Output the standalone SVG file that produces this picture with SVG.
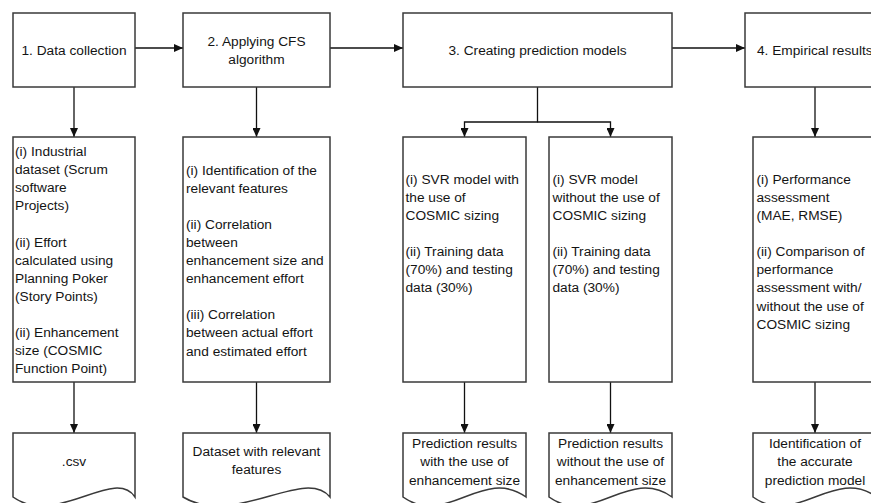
<svg xmlns="http://www.w3.org/2000/svg" width="871" height="503" viewBox="0 0 871 503">
<style>
.box{fill:#fff;stroke:#3a3a3a;stroke-width:1.5}
.conn{fill:none;stroke:#111;stroke-width:1.3}
text{font-family:"Liberation Sans",Arial,sans-serif;font-size:13.7px;fill:#141414}
.c{text-anchor:middle}
</style>
<defs>
<marker id="ah" markerWidth="9" markerHeight="8" refX="9" refY="4" orient="auto" markerUnits="userSpaceOnUse"><path d="M0,0 L9,4 L0,8 z" fill="#111"/></marker>
</defs>
<rect width="871" height="503" fill="#fff"/>

<g id="connectors">
<line class="conn" x1="135" y1="48" x2="183" y2="48" marker-end="url(#ah)"/>
<line class="conn" x1="330" y1="48" x2="403" y2="48" marker-end="url(#ah)"/>
<line class="conn" x1="672" y1="48" x2="745" y2="48" marker-end="url(#ah)"/>
<line class="conn" x1="74" y1="87" x2="74" y2="137" marker-end="url(#ah)"/>
<line class="conn" x1="256.5" y1="87" x2="256.5" y2="137" marker-end="url(#ah)"/>
<path class="conn" d="M537.5,87 V122 H464.5 V137" marker-end="url(#ah)"/>
<path class="conn" d="M537.5,122 H610.5 V137" marker-end="url(#ah)"/>
<line class="conn" x1="815" y1="87" x2="815" y2="137" marker-end="url(#ah)"/>
<line class="conn" x1="74" y1="382" x2="74" y2="433" marker-end="url(#ah)"/>
<line class="conn" x1="256.5" y1="382" x2="256.5" y2="433" marker-end="url(#ah)"/>
<line class="conn" x1="464.5" y1="382" x2="464.5" y2="433" marker-end="url(#ah)"/>
<line class="conn" x1="610.5" y1="382" x2="610.5" y2="433" marker-end="url(#ah)"/>
<line class="conn" x1="815" y1="382" x2="815" y2="433" marker-end="url(#ah)"/>
</g>

<g id="step1">
<rect class="box" x="13" y="13" width="122" height="74"/>
<text class="c" x="74" y="54.5">1. Data collection</text>
</g>
<g id="step2">
<rect class="box" x="183" y="13" width="147" height="74"/>
<text class="c" x="256.5" y="46">2. Applying CFS</text>
<text class="c" x="256.5" y="64">algorithm</text>
</g>
<g id="step3">
<rect class="box" x="403" y="13" width="269" height="74"/>
<text class="c" x="537.5" y="54.5">3. Creating prediction models</text>
</g>
<g id="step4">
<rect class="box" x="745" y="13" width="140" height="74"/>
<text x="757" y="54.5">4. Empirical results</text>
</g>

<g id="detail1">
<rect class="box" x="13" y="137" width="122" height="245"/>
<text>
<tspan x="15" y="156">(i) Industrial</tspan>
<tspan x="15" y="174.1">dataset (Scrum</tspan>
<tspan x="15" y="192.2">software</tspan>
<tspan x="15" y="210.3">Projects)</tspan>
<tspan x="15" y="246.5">(ii) Effort</tspan>
<tspan x="15" y="264.6">calculated using</tspan>
<tspan x="15" y="282.7">Planning Poker</tspan>
<tspan x="15" y="300.8">(Story Points)</tspan>
<tspan x="15" y="337">(ii) Enhancement</tspan>
<tspan x="15" y="355.1">size (COSMIC</tspan>
<tspan x="15" y="373.2">Function Point)</tspan>
</text>
</g>
<g id="detail2">
<rect class="box" x="183" y="137" width="147" height="245"/>
<text>
<tspan x="186" y="174.5">(i) Identification of the</tspan>
<tspan x="186" y="192.6">relevant features</tspan>
<tspan x="186" y="228.8">(ii) Correlation</tspan>
<tspan x="186" y="246.9">between</tspan>
<tspan x="186" y="265">enhancement size and</tspan>
<tspan x="186" y="283.1">enhancement effort</tspan>
<tspan x="186" y="319.3">(iii) Correlation</tspan>
<tspan x="186" y="337.4">between actual effort</tspan>
<tspan x="186" y="355.5">and estimated effort</tspan>
</text>
</g>
<g id="detail3a">
<rect class="box" x="403" y="137" width="123" height="245"/>
<text>
<tspan x="405.5" y="183.8">(i) SVR model with</tspan>
<tspan x="405.5" y="201.9">the use of</tspan>
<tspan x="405.5" y="220">COSMIC sizing</tspan>
<tspan x="405.5" y="256.2">(ii) Training data</tspan>
<tspan x="405.5" y="274.3">(70%) and testing</tspan>
<tspan x="405.5" y="292.4">data (30%)</tspan>
</text>
</g>
<g id="detail3b">
<rect class="box" x="549" y="137" width="123" height="245"/>
<text>
<tspan x="552.5" y="183.8">(i) SVR model</tspan>
<tspan x="552.5" y="201.9">without the use of</tspan>
<tspan x="552.5" y="220">COSMIC sizing</tspan>
<tspan x="552.5" y="256.2">(ii) Training data</tspan>
<tspan x="552.5" y="274.3">(70%) and testing</tspan>
<tspan x="552.5" y="292.4">data (30%)</tspan>
</text>
</g>
<g id="detail4">
<rect class="box" x="753" y="137" width="124" height="245"/>
<text>
<tspan x="756.5" y="183.8">(i) Performance</tspan>
<tspan x="756.5" y="201.9">assessment</tspan>
<tspan x="756.5" y="220">(MAE, RMSE)</tspan>
<tspan x="756.5" y="256.2">(ii) Comparison of</tspan>
<tspan x="756.5" y="274.3">performance</tspan>
<tspan x="756.5" y="292.4">assessment with/</tspan>
<tspan x="756.5" y="310.5">without the use of</tspan>
<tspan x="756.5" y="328.6">COSMIC sizing</tspan>
</text>
</g>

<g id="output1">
<path class="box" d="M13,433 H135 V497 C114.3,466 55.7,528 13,497 Z"/>
<text class="c" x="74" y="466">.csv</text>
</g>
<g id="output2">
<path class="box" d="M183,433 H330 V497 C304.5,466 234.5,528 183,497 Z"/>
<text class="c" x="256.5" y="456">Dataset with relevant</text>
<text class="c" x="256.5" y="474">features</text>
</g>
<g id="output3a">
<path class="box" d="M403,433 H526 V497 C482.9,466 446.1,528 403,497 Z"/>
<text class="c" x="464.5" y="447.5">Prediction results</text>
<text class="c" x="464.5" y="466">with the use of</text>
<text class="c" x="464.5" y="484.5">enhancement size</text>
</g>
<g id="output3b">
<path class="box" d="M549,433 H672 V497 C628.9,466 592.1,528 549,497 Z"/>
<text class="c" x="610.5" y="447.5">Prediction results</text>
<text class="c" x="610.5" y="466">without the use of</text>
<text class="c" x="610.5" y="484.5">enhancement size</text>
</g>
<g id="output4">
<path class="box" d="M753,433 H877 V497 C833.6,466 796.4,528 753,497 Z"/>
<text class="c" x="815" y="447.5">Identification of</text>
<text class="c" x="815" y="466">the accurate</text>
<text class="c" x="815" y="484.5">prediction model</text>
</g>
</svg>
